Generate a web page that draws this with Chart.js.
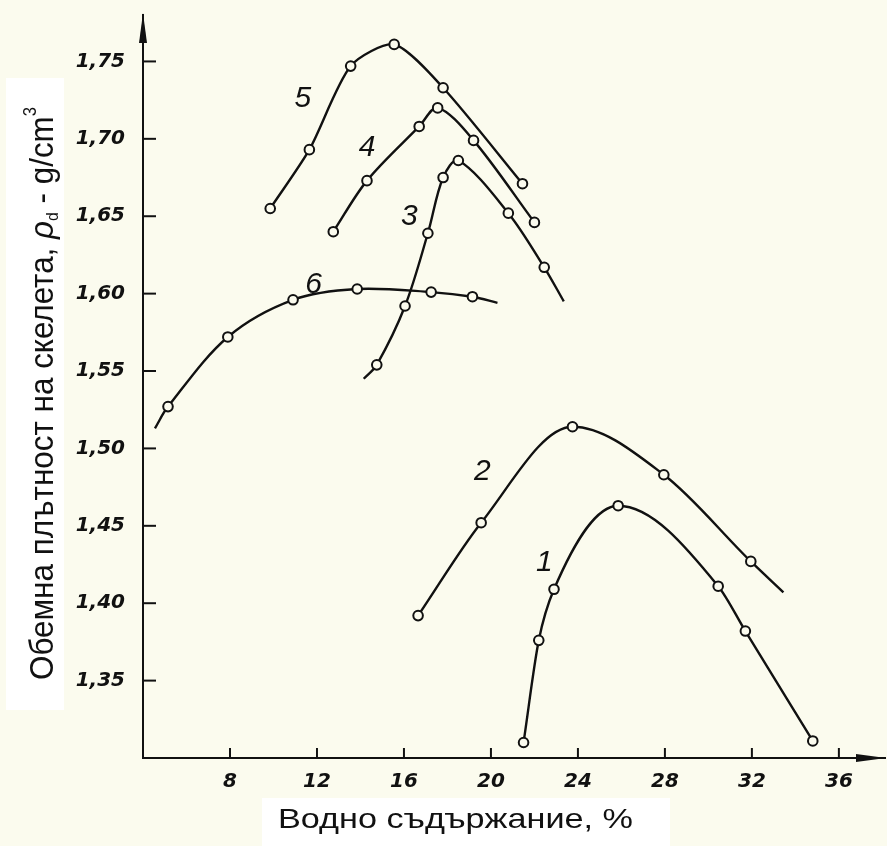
<!DOCTYPE html>
<html>
<head>
<meta charset="utf-8">
<script src="https://cdn.jsdelivr.net/npm/chart.js@4.4.1/dist/chart.umd.min.js"></script>
<style>
  html, body { margin: 0; padding: 0; background: #fbfbee; }
  #wrap { width: 887px; height: 846px; position: relative; }
</style>
</head>
<body>
<div id="wrap"><canvas id="proctorChart"></canvas></div>
<script>
const PAPER = '#fbfbee';
const INK = '#111111';

// axis ticks
const waterTicks = [8, 12, 16, 20, 24, 28, 32, 36];
const densityTicks = [1.35, 1.40, 1.45, 1.50, 1.55, 1.60, 1.65, 1.70, 1.75];

// curve 1
const w1 = [21.5, 22.2, 22.9, 25.85, 30.45, 31.7, 34.8];
const rho1 = [1.310, 1.376, 1.409, 1.463, 1.411, 1.382, 1.311];
// curve 2
const w2 = [16.65, 19.55, 23.75, 27.95, 31.95];
const rho2 = [1.392, 1.452, 1.514, 1.483, 1.427];
// curve 3
const w3 = [14.75, 16.05, 17.1, 17.8, 18.5, 20.8, 22.45];
const rho3 = [1.554, 1.592, 1.639, 1.675, 1.686, 1.652, 1.617];
// curve 4
const w4 = [12.75, 14.3, 16.7, 17.55, 19.2, 22.0];
const rho4 = [1.640, 1.673, 1.708, 1.720, 1.699, 1.646];
// curve 5
const w5 = [9.85, 11.65, 13.55, 15.55, 17.8, 21.45];
const rho5 = [1.655, 1.693, 1.747, 1.761, 1.733, 1.671];
// curve 6
const w6 = [5.15, 7.9, 10.9, 13.85, 17.25, 19.15];
const rho6 = [1.527, 1.572, 1.596, 1.603, 1.601, 1.598];

// where the drawn lines run on past the first / last point
const lineStart = [null, null, [14.15, 1.545], null, null, [4.55, 1.513]];
const lineEnd = [null, [33.45, 1.407], [23.35, 1.595], null, null, [20.3, 1.594]];

// curve numbers and where they sit
const curveNames = ['1', '2', '3', '4', '5', '6'];
const labelW = [22.45, 19.6, 16.25, 14.3, 11.35, 11.85];
const labelRho = [1.426, 1.485, 1.650, 1.694, 1.726, 1.606];

const curvesW = [w1, w2, w3, w4, w5, w6];
const curvesRho = [rho1, rho2, rho3, rho4, rho5, rho6];
const smoothMode = ['monotone', 'monotone', 'default', 'default', 'default', 'default'];
const smoothTension = [0.33, 0.33, 0.33, 0.33, 0.25, 0.33];

const datasets = [];
curvesW.forEach((ws, i) => {
    const pts = ws.map((w, j) => ({x: w, y: curvesRho[i][j]}));
    let linePts = pts.slice();
    if (lineStart[i]) linePts.unshift({x: lineStart[i][0], y: lineStart[i][1]});
    if (lineEnd[i]) linePts.push({x: lineEnd[i][0], y: lineEnd[i][1]});
    datasets.push({
        label: 'Крива ' + curveNames[i],
        data: linePts,
        showLine: true,
        borderColor: INK,
        borderWidth: 2.4,
        pointRadius: 0,
        cubicInterpolationMode: smoothMode[i],
        tension: smoothTension[i],
        order: 2
    });
    datasets.push({
        label: 'Точки ' + curveNames[i],
        data: pts,
        showLine: false,
        pointRadius: 4.8,
        pointBorderWidth: 2,
        pointBorderColor: INK,
        pointBackgroundColor: PAPER,
        order: 1
    });
});

const paperPlugin = {
    id: 'paper',
    beforeDraw(chart) {
        const c = chart.ctx;
        c.save();
        c.fillStyle = PAPER;
        c.fillRect(0, 0, chart.width, chart.height);
        c.fillStyle = '#ffffff';
        c.fillRect(6, 78, 58, 632);
        c.fillRect(262, 798, 408, 48);
        c.restore();
    },
    afterDraw(chart) {
        const c = chart.ctx;
        const area = chart.chartArea;
        const x = chart.scales.x, y = chart.scales.y;
        c.save();
        c.strokeStyle = INK;
        c.lineWidth = 2;
        // ticks point inward
        y.ticks.forEach(t => {
            const py = y.getPixelForValue(t.value);
            c.beginPath(); c.moveTo(area.left, py); c.lineTo(area.left + 13, py); c.stroke();
        });
        x.ticks.forEach(t => {
            const px = x.getPixelForValue(t.value);
            c.beginPath(); c.moveTo(px, area.bottom); c.lineTo(px, area.bottom - 10); c.stroke();
        });
        // x axis runs on to the canvas edge, then arrow heads
        const tipX = chart.width - 1;
        c.beginPath(); c.moveTo(area.right, area.bottom); c.lineTo(tipX, area.bottom); c.stroke();
        c.fillStyle = INK;
        c.beginPath();
        c.moveTo(area.left, area.top - 2);
        c.lineTo(area.left - 4, area.top + 28);
        c.lineTo(area.left + 4, area.top + 28);
        c.closePath(); c.fill();
        c.beginPath();
        c.moveTo(tipX, area.bottom);
        c.lineTo(tipX - 30, area.bottom - 4);
        c.lineTo(tipX - 30, area.bottom + 4);
        c.closePath(); c.fill();

        // curve numbers
        c.font = 'italic 30px "Liberation Sans"';
        c.textAlign = 'center';
        c.textBaseline = 'middle';
        curveNames.forEach((n, i) => {
            c.fillText(n, x.getPixelForValue(labelW[i]), y.getPixelForValue(labelRho[i]));
        });

        // y title, with sub- and superscript
        c.textAlign = 'left';
        c.textBaseline = 'alphabetic';
        c.save();
        c.translate(53, 680);
        c.rotate(-Math.PI / 2);
        const parts = [
            {t: 'Обемна плътност на скелета, ', f: '34px "Liberation Sans"', dy: 0},
            {t: 'ρ', f: 'italic 34px "Liberation Sans"', dy: 0},
            {t: 'd', f: '17px "Liberation Sans"', dy: 5},
            {t: ' - g/cm', f: '34px "Liberation Sans"', dy: 0},
            {t: '3', f: '18px "Liberation Sans"', dy: -17}
        ];
        let total = 0;
        parts.forEach(p => { c.font = p.f; p.w = c.measureText(p.t).width; total += p.w; });
        c.scale(573 / total, 1);
        let cx = 0;
        parts.forEach(p => { c.font = p.f; c.fillText(p.t, cx, p.dy); cx += p.w; });
        c.restore();

        // x title
        c.save();
        c.font = '28px "Liberation Sans"';
        const xt = 'Водно съдържание, %';
        const xw = c.measureText(xt).width;
        c.translate(278, 828);
        c.scale(355 / xw, 1);
        c.fillText(xt, 0, 0);
        c.restore();

        c.restore();
    }
};

const ctx = document.getElementById('proctorChart').getContext('2d');

const tickFont = {family: 'DejaVu Sans', size: 20, weight: 'bold', style: 'italic'};

const config = {
    type: 'scatter',
    data: {datasets: datasets},
    options: {
        responsive: true,
        maintainAspectRatio: false,
        animation: false,
        layout: {padding: {top: 15, right: 0, left: 0, bottom: 0}},
        plugins: {
            legend: {display: false},
            tooltip: {enabled: false}
        },
        scales: {
            x: {
                type: 'linear',
                min: 4,
                max: 37.9,
                afterBuildTicks: (scale) => { scale.ticks = waterTicks.map(v => ({value: v})); },
                afterFit: (scale) => {
                    scale.height = 88;
                    scale.paddingLeft = 0;
                    scale.paddingRight = 0;
                },
                grid: {display: true, drawOnChartArea: false, drawTicks: false},
                border: {display: true, color: INK, width: 2},
                ticks: {
                    padding: 12,
                    color: INK,
                    font: tickFont,
                    callback: (v) => String(v)
                }
            },
            y: {
                type: 'linear',
                min: 1.30,
                max: 1.78,
                afterBuildTicks: (scale) => { scale.ticks = densityTicks.map(v => ({value: v})); },
                afterFit: (scale) => {
                    scale.width = 143;
                    scale.paddingTop = 0;
                    scale.paddingBottom = 0;
                },
                grid: {display: true, drawOnChartArea: false, drawTicks: false},
                border: {display: true, color: INK, width: 2},
                ticks: {
                    padding: 18,
                    color: INK,
                    font: tickFont,
                    callback: (v) => v.toFixed(2).replace('.', ',')
                }
            }
        }
    },
    plugins: [paperPlugin]
};

const proctor = new Chart(ctx, config);
</script>
</body>
</html>
